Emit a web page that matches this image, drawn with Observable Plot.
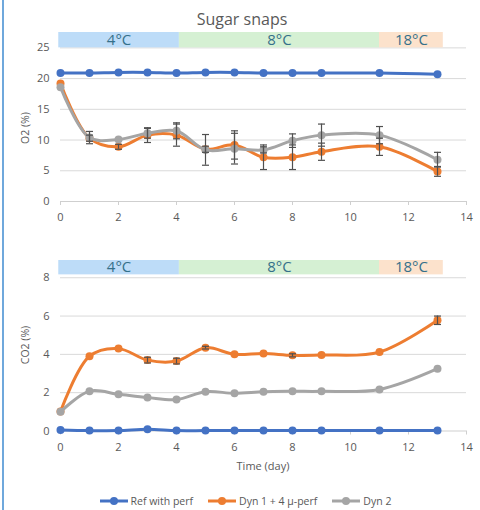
<!DOCTYPE html>
<html><head><meta charset="utf-8">
<script src="https://cdn.jsdelivr.net/npm/d3@7"></script>
<script src="https://cdn.jsdelivr.net/npm/@observablehq/plot@0.6"></script>
<style>
body{margin:0;background:#fff;font-family:"Open Sans",sans-serif;}
#wrap{position:relative;width:480px;height:510px;overflow:hidden;background:#fff;}
#border{position:absolute;left:2px;top:0;width:2px;height:510px;background:#6FA8DC;}
#title{position:absolute;left:0;width:484px;top:8px;text-align:center;font-size:16px;color:#595959;}
.panel{position:absolute;left:0;}
.ylab{position:absolute;font-size:10.5px;color:#595959;white-space:nowrap;transform:translate(-50%,-50%) rotate(-90deg);left:25px;}
#xlab{position:absolute;left:60px;width:406px;top:458px;text-align:center;font-size:11px;color:#595959;}
#legend{position:absolute;left:0;width:490px;top:494px;display:flex;justify-content:center;gap:14px;font-size:10.5px;color:#595959;}
.item{display:flex;align-items:center;gap:2px;}
</style></head><body>
<div id="wrap"><div id="border"></div><div id="title">Sugar snaps</div>
<div class="panel" id="p1" style="top:0px"></div>
<div class="panel" id="p2" style="top:228px"></div>
<div class="ylab" style="top:128px">O2 (%)</div>
<div class="ylab" style="top:345px">CO2 (%)</div>
<div id="xlab">Time (day)</div>
<div id="legend"></div>
</div>
<script>
const days = [0,1,2,3,4,5,6,7,8,9,11,13];
const seriesNames = ["Ref with perf","Dyn 1 + 4 µ-perf","Dyn 2"];
const seriesColors = ["#4472C4","#ED7D31","#A5A5A5"];

const o2Ref  = [20.9,20.9,21.0,21.0,20.9,21.0,21.0,20.9,20.9,20.9,20.9,20.7];
const o2Dyn1 = [19.2,10.3,8.9,10.8,10.8,8.5,9.2,7.2,7.2,8.1,8.9,4.9];
const o2Dyn2 = [18.6,10.4,10.1,11.1,11.5,8.4,8.6,8.4,9.9,10.8,10.8,6.8];
const o2Dyn1Err = [0,0.5,0.4,1.2,1.8,0.5,2.3,2.0,2.0,1.4,1.4,0.8];
const o2Dyn2Err = [0,1.0,0,0.8,1.3,2.5,2.5,0.5,1.1,1.8,1.4,1.2];

const co2Ref  = [0.05,0.02,0.02,0.09,0.02,0.02,0.02,0.02,0.02,0.02,0.02,0.02];
const co2Dyn1 = [1.02,3.9,4.3,3.7,3.65,4.35,4.0,4.05,3.95,3.97,4.12,5.78];
const co2Dyn2 = [1.0,2.08,1.92,1.75,1.64,2.05,1.97,2.05,2.07,2.07,2.17,3.25];
const co2Dyn1Err = [0,0,0,0.15,0.15,0.07,0,0,0.08,0,0,0.22];
const co2Dyn2Err = [0,0,0,0,0,0,0,0,0,0,0,0];

const bandLabels = ["4°C","8°C","18°C"];
const bandStart = [-0.06,4.1,11.0];
const bandEnd = [4.1,11.0,13.2];
const bandColors = ["#BDDCF8","#D5F0D3","#FCE2CC"];

const xTicks = [0,2,4,6,8,10,12,14];
const o2Ticks = [0,5,10,15,20,25];
const co2Ticks = [0,2,4,6,8];

const capSymbol = {draw(ctx){ctx.moveTo(-3.5,0);ctx.lineTo(3.5,0);}};

function panel({yTop, yTicks, bandY1, bandY2, series, errs, height, marginBottom}) {
  const bands = bandLabels.map((t,i)=>({t, x1:bandStart[i], x2:bandEnd[i], c:bandColors[i]}));
  const marks = [
    Plot.gridY(yTicks.filter(t=>t>0), {stroke:"#d9d9d9", strokeOpacity:1}),
    Plot.ruleY([0], {stroke:"#cfcfcf"}),
    Plot.axisX({ticks:xTicks, tickSize:4, tickPadding:8, stroke:"#cfcfcf", fill:"#595959", label:null}),
    Plot.axisY({ticks:yTicks, tickSize:0, tickPadding:11, fill:"#595959", label:null}),
    Plot.rect(bands, {x1:"x1", x2:"x2", y1:bandY1, y2:bandY2, fill:"c"}),
    Plot.text(bands, {x:d=>(d.x1+d.x2)/2, y:(bandY1+bandY2)/2, text:"t", fill:"#35708A", fontSize:15})
  ];
  series.forEach((vals,s)=>{
    const rows = days.map((d,i)=>({x:d, y:vals[i]}));
    marks.push(Plot.line(rows,{x:"x",y:"y",stroke:seriesColors[s],strokeWidth:3,curve:"catmull-rom"}));
    marks.push(Plot.dot(rows,{x:"x",y:"y",r:4,fill:seriesColors[s]}));
  });
  errs.forEach(([s,e])=>{
    const rows = days.map((d,i)=>({x:d, y:series[s][i], e:e[i]})).filter(r=>r.e>0);
    marks.push(Plot.ruleX(rows,{x:"x",y1:r=>r.y-r.e,y2:r=>r.y+r.e,stroke:"#505050",strokeWidth:1.2}));
    marks.push(Plot.dot(rows,{x:"x",y:r=>r.y-r.e,symbol:capSymbol,stroke:"#505050",fill:"none",strokeWidth:1.2}));
    marks.push(Plot.dot(rows,{x:"x",y:r=>r.y+r.e,symbol:capSymbol,stroke:"#505050",fill:"none",strokeWidth:1.2}));
  });
  return Plot.plot({
    width:480, height, marginLeft:60, marginRight:14, marginTop:32, marginBottom,
    style:{fontFamily:"Open Sans", fontSize:"11px", color:"#595959", background:"transparent", overflow:"visible"},
    x:{domain:[0,14]},
    y:{domain:[0,yTop]},
    marks
  });
}

document.getElementById("p1").append(panel({
  yTop:27.5, yTicks:o2Ticks, bandY1:25, bandY2:27.5,
  series:[o2Ref,o2Dyn1,o2Dyn2], errs:[[1,o2Dyn1Err],[2,o2Dyn2Err]],
  height:228, marginBottom:27
}));
document.getElementById("p2").append(panel({
  yTop:8.9, yTicks:co2Ticks, bandY1:8.15, bandY2:8.9,
  series:[co2Ref,co2Dyn1,co2Dyn2], errs:[[1,co2Dyn1Err],[2,co2Dyn2Err]],
  height:227, marginBottom:24.5
}));

const leg = document.getElementById("legend");
seriesNames.forEach((n,i)=>{
  const it = document.createElement("div"); it.className="item";
  it.innerHTML = `<svg width="30" height="10"><line x1="1" y1="5" x2="29" y2="5" stroke="${seriesColors[i]}" stroke-width="3"/><circle cx="15" cy="5" r="4" fill="${seriesColors[i]}"/></svg><span>${n}</span>`;
  leg.append(it);
});
</script></body></html>
